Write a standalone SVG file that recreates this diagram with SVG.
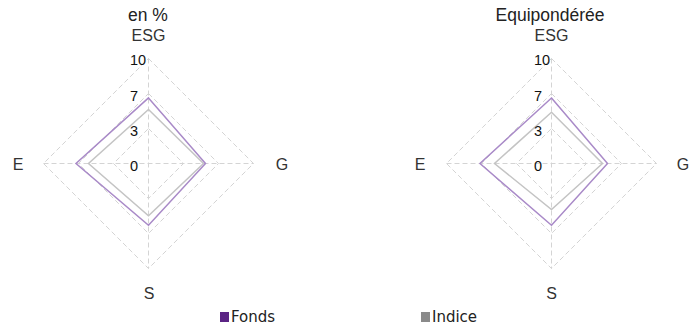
<svg xmlns="http://www.w3.org/2000/svg" width="699" height="327" viewBox="0 0 699 327">
<style>
.grid{fill:none;stroke:#d4d4d4;stroke-width:1;stroke-dasharray:5,3}
.fonds{fill:none;stroke:#a98ac8;stroke-width:1.5}
.indice{fill:none;stroke:#c4c4c4;stroke-width:1.5}
.title{font-family:"Liberation Sans",Arial,sans-serif;font-size:17.5px;fill:#222;text-anchor:middle}
.ax{font-family:"Liberation Sans",Arial,sans-serif;font-size:16px;fill:#333;text-anchor:middle}
.tick{font-family:"Liberation Sans",Arial,sans-serif;font-size:14.5px;fill:#111}
.leg{font-family:"DejaVu Sans",Verdana,sans-serif;font-size:15px;fill:#222}
</style>
<rect width="699" height="327" fill="#ffffff"/>
<g id="chart-left">
<text class="title" x="148" y="21">en %</text>
<text class="ax" x="148.5" y="41">ESG</text>
<text class="ax" x="18" y="170">E</text>
<text class="ax" x="282" y="170">G</text>
<text class="ax" x="149" y="299">S</text>
<g class="grid">
<polygon points="148.5,58.5 253.5,163.5 148.5,268.5 43.5,163.5"/>
<polygon points="148.5,93.5 218.5,163.5 148.5,233.5 78.5,163.5"/>
<polygon points="148.5,128.5 183.5,163.5 148.5,198.5 113.5,163.5"/>
<line x1="148.5" y1="58.5" x2="148.5" y2="268.5"/>
<line x1="43.5" y1="163.5" x2="253.5" y2="163.5"/>
</g>
<polygon class="indice" points="148.5,109.5 203.5,163.5 148.5,215.8 88.5,163.5"/>
<polygon class="fonds" points="148.5,97.9 205.5,163.5 148.5,225.2 76,163.5"/>
<text class="tick" x="130" y="65">10</text>
<text class="tick" x="130" y="101">7</text>
<text class="tick" x="130" y="136">3</text>
<text class="tick" x="130" y="171">0</text>
</g>
<g id="chart-right">
<text class="title" x="550" y="21">Equipondérée</text>
<text class="ax" x="551.5" y="41">ESG</text>
<text class="ax" x="420" y="170">E</text>
<text class="ax" x="683" y="170">G</text>
<text class="ax" x="551.5" y="299">S</text>
<g class="grid">
<polygon points="551.5,58.5 656.5,163.5 551.5,268.5 446.5,163.5"/>
<polygon points="551.5,93.5 621.5,163.5 551.5,233.5 481.5,163.5"/>
<polygon points="551.5,128.5 586.5,163.5 551.5,198.5 516.5,163.5"/>
<line x1="551.5" y1="58.5" x2="551.5" y2="268.5"/>
<line x1="446.5" y1="163.5" x2="656.5" y2="163.5"/>
</g>
<polygon class="indice" points="551.5,112.3 602.5,163.5 551.5,209.5 494.5,163.5"/>
<polygon class="fonds" points="551.5,98 607.5,163.5 551.5,225.3 480,163.5"/>
<text class="tick" x="534" y="65">10</text>
<text class="tick" x="534" y="101">7</text>
<text class="tick" x="534" y="136">3</text>
<text class="tick" x="534" y="171">0</text>
</g>
<g id="legend">
<rect x="220" y="312" width="9" height="10" fill="#5b2484"/>
<text class="leg" x="231" y="322">Fonds</text>
<rect x="421" y="312" width="9" height="10" fill="#8a8a8a"/>
<text class="leg" x="432" y="322">Indice</text>
</g>
</svg>
